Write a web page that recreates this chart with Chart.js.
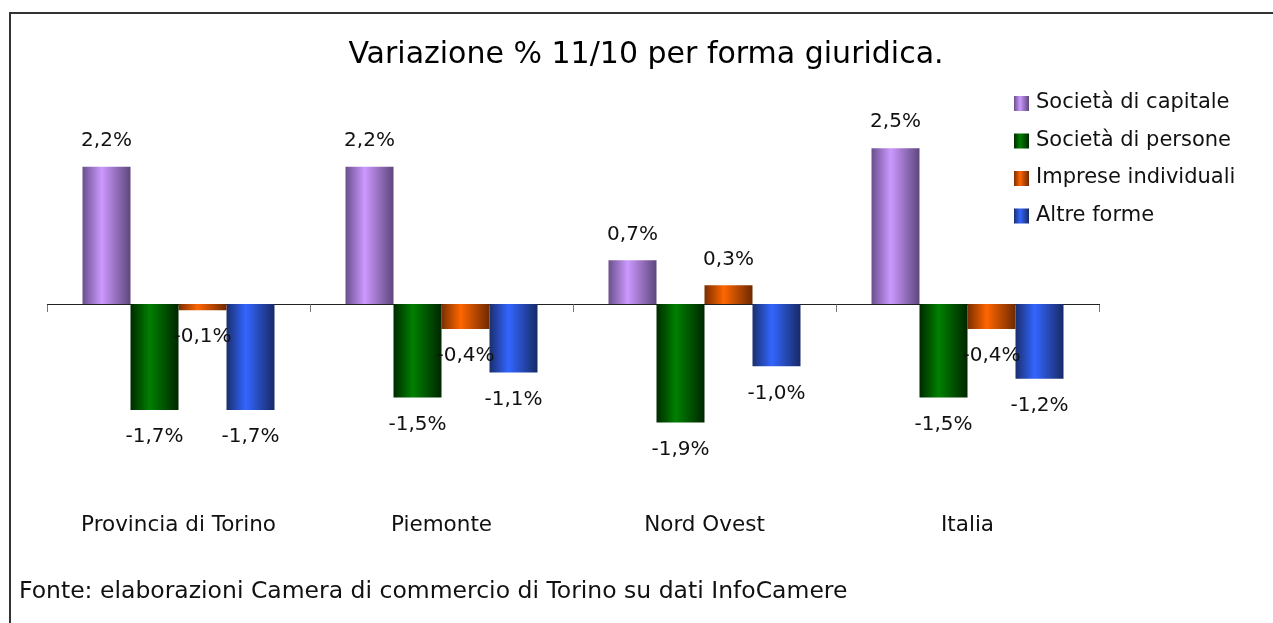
<!DOCTYPE html>
<html>
<head>
<meta charset="utf-8">
<script src="https://cdn.jsdelivr.net/npm/chart.js@4.4.0/dist/chart.umd.min.js"></script>
<style>
  html, body { margin: 0; padding: 0; background: #fff; overflow: hidden; }
  #frame { position: absolute; left: 9px; top: 12px; width: 1300px; height: 640px;
           border-left: 2px solid #333; border-top: 2px solid #333; }
  #wrap { position: absolute; left: 11px; top: 14px; width: 1262px; height: 609px; }
</style>
</head>
<body>
<div id="frame"></div>
<div id="wrap"><canvas id="chart"></canvas></div>
<script>
const categories = ['Provincia di Torino', 'Piemonte', 'Nord Ovest', 'Italia'];
const seriesNames = ['Società di capitale', 'Società di persone', 'Imprese individuali', 'Altre forme'];
const capitale = [2.2, 2.2, 0.7, 2.5];
const persone = [-1.7, -1.5, -1.9, -1.5];
const individuali = [-0.1, -0.4, 0.3, -0.4];
const altre = [-1.7, -1.1, -1.0, -1.2];
const chartTitle = 'Variazione % 11/10 per forma giuridica.';
const source = 'Fonte: elaborazioni Camera di commercio di Torino su dati InfoCamere';

const FONT = '"DejaVu Sans"';

// dark edge, bright centre, dark edge - the bars look like shaded cylinders
const shades = [
  ['#6a4f8c', '#cc99ff', '#5e467c'],
  ['#002a00', '#008000', '#002600'],
  ['#7a2e00', '#ff6600', '#6e2900'],
  ['#1a2e6e', '#3366ff', '#172a66']
];

function barGradient(ctx, left, right, c) {
  const g = ctx.createLinearGradient(left, 0, right, 0);
  g.addColorStop(0, c[0]);
  g.addColorStop(0.4, c[1]);
  g.addColorStop(1, c[2]);
  return g;
}

function fmt(v) {
  return v.toFixed(1).replace('.', ',') + '%';
}

const shading = {
  id: 'shading',
  beforeDatasetsDraw(chart) {
    chart.data.datasets.forEach((ds, i) => {
      chart.getDatasetMeta(i).data.forEach(el => {
        const g = barGradient(chart.ctx, el.x - el.width / 2, el.x + el.width / 2, shades[i]);
        el.options = Object.assign({}, el.options, { backgroundColor: g });
      });
    });
  }
};

const valueLabels = {
  id: 'valueLabels',
  afterDatasetsDraw(chart) {
    const ctx = chart.ctx;
    ctx.save();
    ctx.font = '20px ' + FONT;
    ctx.fillStyle = '#111';
    ctx.textAlign = 'center';
    ctx.textBaseline = 'middle';
    chart.data.datasets.forEach((ds, i) => {
      chart.getDatasetMeta(i).data.forEach((el, j) => {
        const v = ds.data[j];
        const y = v >= 0 ? el.y - 26 : el.y + 27;
        ctx.fillText(fmt(v), el.x, y);
      });
    });
    ctx.restore();
  }
};

const sideLegend = {
  id: 'sideLegend',
  afterDraw(chart) {
    const ctx = chart.ctx;
    ctx.save();
    ctx.font = '21px ' + FONT;
    ctx.textAlign = 'left';
    ctx.textBaseline = 'middle';
    chart.data.datasets.forEach((ds, i) => {
      const y = 89 + i * 37.5;
      ctx.fillStyle = barGradient(ctx, 1003, 1018, shades[i]);
      ctx.fillRect(1003, y - 7, 15, 15);
      ctx.fillStyle = '#111';
      ctx.fillText(ds.label, 1025, y);
    });
    ctx.restore();
  }
};

const ctx = document.getElementById('chart').getContext('2d');
const chart = new Chart(ctx, {
  type: 'bar',
  data: {
    labels: categories,
    datasets: [
      { label: seriesNames[0], data: capitale, backgroundColor: shades[0][1] },
      { label: seriesNames[1], data: persone, backgroundColor: shades[1][1] },
      { label: seriesNames[2], data: individuali, backgroundColor: shades[2][1] },
      { label: seriesNames[3], data: altre, backgroundColor: shades[3][1] }
    ]
  },
  options: {
    responsive: true,
    maintainAspectRatio: false,
    animation: false,
    layout: { padding: { left: 8 } },
    datasets: {
      bar: { categoryPercentage: 0.73, barPercentage: 1, borderWidth: 0 }
    },
    plugins: {
      legend: { display: false },
      tooltip: { enabled: false },
      title: {
        display: true,
        text: chartTitle,
        color: '#000',
        font: { family: FONT, size: 30, weight: 'normal' },
        padding: { top: 23, bottom: 44 }
      },
      subtitle: {
        display: true,
        text: source,
        position: 'bottom',
        align: 'start',
        color: '#111',
        font: { family: FONT, size: 23.5, weight: 'normal' },
        padding: { top: 17, bottom: 17 }
      }
    },
    scales: {
      x: {
        position: { y: 0 },
        offset: true,
        grid: { offset: true, drawOnChartArea: false, drawTicks: true, tickLength: 7, color: '#777' },
        border: { display: true, color: '#222', width: 1 },
        ticks: { display: false }
      },
      x2: {
        type: 'category',
        labels: categories,
        position: 'bottom',
        offset: true,
        grid: { display: false, drawTicks: false },
        border: { display: false },
        ticks: { color: '#111', font: { family: FONT, size: 21.5 }, padding: 22, maxRotation: 0 }
      },
      y: {
        min: -3,
        max: 3,
        afterFit: s => { s.width = 28; },
        ticks: { display: false },
        grid: { display: false },
        border: { display: false }
      },
      yR: {
        position: 'right',
        afterFit: s => { s.width = 174; },
        ticks: { display: false },
        grid: { display: false },
        border: { display: false }
      }
    }
  },
  plugins: [shading, valueLabels, sideLegend]
});
</script>
</body>
</html>
